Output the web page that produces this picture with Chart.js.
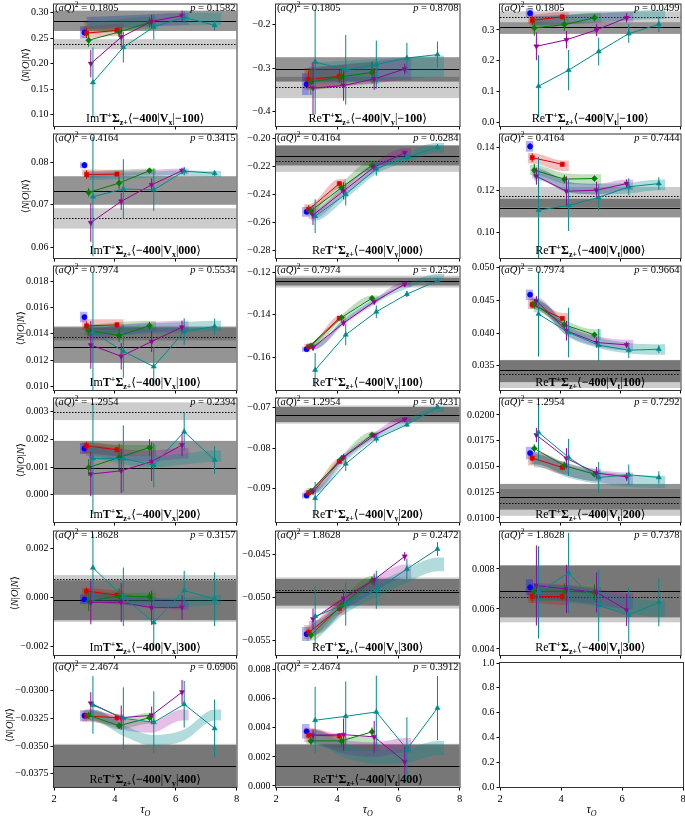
<!DOCTYPE html>
<html>
<head>
<meta charset="utf-8">
<script src="https://cdn.jsdelivr.net/npm/chart.js@4"></script>
<style>
  body { margin: 0; background: #fff; width: 685px; height: 818px; position: relative; overflow: hidden; }
  canvas { position: absolute; }
</style>
</head>
<body>
<script>
// tau positions of the five fit ranges (slightly offset per series)
const tauBlue = [3.0];
const tauRed = [3.07, 4.07];
const tauGreen = [3.14, 4.14, 5.14];
const tauPurple = [3.21, 4.21, 5.21, 6.21];
const tauTeal = [3.28, 4.28, 5.28, 6.28, 7.28];

// panel labels, row by row
const titleParts = ['Im','Re','Re','Im','Re','Re','Im','Re','Re','Im','Re','Re','Im','Re','Re','Re','Re'];
const titleComps = ['x','y','t','x','y','t','x','y','t','x','y','t','x','y','t','y','t'];
const titleMoms = ['−100','−100','−100','000','000','000','100','100','100','200','200','200','300','300','300','400','400'];
const aQ2 = ['0.1805','0.1805','0.1805','0.4164','0.4164','0.4164','0.7974','0.7974','0.7974','1.2954','1.2954','1.2954','1.8628','1.8628','1.8628','2.4674','2.4674'];
const pValues = ['0.1582','0.8708','0.0499','0.3415','0.6284','0.7444','0.5534','0.2529','0.9664','0.2394','0.4231','0.7292','0.3157','0.2472','0.7378','0.6906','0.3912'];

// y axis ranges and ticks
const yMin = [0.0775, -0.433, -0.0105, 0.0575, -0.2852, 0.0881, 0.00975, -0.1754, 0.0313, -0.00098, -0.0982, 0.0096, -0.00236, -0.05665, 0.0037, -0.0387, -0.00007, 0];
const yMax = [0.316, -0.154, 0.382, 0.0865, -0.1974, 0.1462, 0.0191, -0.1173, 0.0502, 0.00348, -0.0678, 0.0216, 0.00271, -0.0424, 0.00987, -0.02755, 0.00842, 1];
const yStep = [0.05, 0.1, 0.1, 0.01, 0.02, 0.02, 0.002, 0.02, 0.005, 0.001, 0.01, 0.0025, 0.002, 0.005, 0.002, 0.0025, 0.002, 0.2];
const yDecimals = [2, 1, 1, 2, 2, 2, 3, 2, 3, 3, 2, 4, 3, 3, 3, 4, 3, 1];
const xTicks = [2, 4, 6, 8];

// data points and errors
const blueVal = [0.261, -0.337, 0.354, 0.0793, -0.2524, 0.1406, 0.01527, -0.1562, 0.04589, 0.001675, -0.09169, 0.0163, -0.00008, -0.05423, 0.00708, -0.03226, 0.00376];
const blueErr = [0.006, 0.008, 0.008, 0.0007, 0.0015, 0.0015, 0.0002, 0.0008, 0.0003, 0.0001, 0.0004, 0.0002, 0.00008, 0.0003, 0.00015, 0.00015, 0.0001];

const redVal = [[0.260, 0.265], [-0.326, -0.319], [0.331, 0.342], [0.0771, 0.0772], [-0.2507, -0.2323], [0.1353, 0.1322], [0.01461, 0.01468], [-0.1551, -0.1416], [0.04435, 0.04225], [0.00177, 0.00163], [-0.09103, -0.08329], [0.01581, 0.0149], [0.00026, 0.0001], [-0.05404, -0.05127], [0.00662, 0.00662], [-0.03229, -0.03244], [0.00349, 0.00344]];
const redErr = [[0.010, 0.006], [0.02, 0.015], [0.015, 0.008], [0.001, 0.0005], [0.003, 0.0015], [0.002, 0.001], [0.0003, 0.0002], [0.001, 0.0008], [0.0005, 0.0003], [0.00015, 0.0001], [0.0005, 0.0004], [0.0003, 0.0002], [0.00015, 0.0001], [0.0004, 0.0004], [0.0003, 0.0002], [0.0002, 0.0003], [0.0002, 0.0002]];

const greenVal = [[0.246, 0.262, 0.281], [-0.332, -0.320, -0.310], [0.306, 0.317, 0.339], [0.0729, 0.0751, 0.0780], [-0.2517, -0.2352, -0.2194], [0.1294, 0.1252, 0.1255], [0.01425, 0.01387, 0.01461], [-0.1546, -0.1413, -0.1322], [0.04445, 0.04128, 0.03974], [0.00099, 0.00135, 0.00171], [-0.09062, -0.08263, -0.07671], [0.01675, 0.01506, 0.01425], [-0.00015, 0.00007, 0.00003], [-0.05435, -0.05096, -0.04808], [0.00688, 0.00688, 0.00683], [-0.03223, -0.03317, -0.03244], [0.0031, 0.0031, 0.00372]];
const greenErr = [[0.013, 0.010, 0.010], [0.03, 0.02, 0.025], [0.025, 0.02, 0.012], [0.001, 0.0015, 0.0006], [0.003, 0.003, 0.0015], [0.003, 0.002, 0.001], [0.0004, 0.0005, 0.0003], [0.001, 0.001, 0.0008], [0.0007, 0.0007, 0.0004], [0.0003, 0.0005, 0.0003], [0.0006, 0.0006, 0.0004], [0.0004, 0.0004, 0.0003], [0.0004, 0.0003, 0.0002], [0.0005, 0.0006, 0.0005], [0.0004, 0.0004, 0.0004], [0.0003, 0.0003, 0.0004], [0.0003, 0.0003, 0.0003]];

const purpleVal = [[0.200, 0.252, 0.283, 0.294], [-0.346, -0.340, -0.325, -0.302], [0.247, 0.268, 0.300, 0.339], [0.0658, 0.0708, 0.0747, 0.0780], [-0.2547, -0.2375, -0.2205, -0.2104], [0.1266, 0.1195, 0.1200, 0.1231], [0.01316, 0.0123, 0.01342, 0.01451], [-0.1554, -0.1439, -0.1339, -0.1256], [0.04496, 0.04036, 0.03857, 0.03821], [0.00075, 0.00087, 0.0012, 0.0018], [-0.0907, -0.08222, -0.07687, -0.07292], [0.01805, 0.01578, 0.01435, 0.01399], [-0.0002, -0.0002, -0.00042, -0.0004], [-0.0525, -0.05012, -0.04796, -0.04527], [0.00717, 0.0070, 0.00683, 0.00595], [-0.03114, -0.03244, -0.03223, -0.03013], [0.00349, 0.00353, 0.00338, 0.00166]];
const purpleErr = [[0.027, 0.02, 0.013, 0.01], [0.06, 0.035, 0.025, 0.012], [0.045, 0.028, 0.02, 0.015], [0.0045, 0.002, 0.0015, 0.0007], [0.007, 0.006, 0.003, 0.0015], [0.004, 0.007, 0.004, 0.002], [0.0018, 0.001, 0.0008, 0.0005], [0.0015, 0.0015, 0.001, 0.0007], [0.0007, 0.0015, 0.0008, 0.0005], [0.0008, 0.0008, 0.0007, 0.0004], [0.0008, 0.0008, 0.0005, 0.0004], [0.0007, 0.001, 0.0006, 0.0004], [0.0009, 0.0008, 0.0007, 0.0005], [0.0012, 0.001, 0.0007, 0.0005], [0.002, 0.0012, 0.001, 0.0008], [0.001, 0.0011, 0.0008, 0.0011], [0.0004, 0.0011, 0.0011, 0.0011]];

const tealVal = [[0.163, 0.232, 0.272, 0.291, 0.275], [-0.286, -0.304, -0.292, -0.277, -0.269], [0.118, 0.170, 0.230, 0.288, 0.318], [0.0719, 0.0737, 0.0735, 0.0779, 0.0774], [-0.2555, -0.2399, -0.2217, -0.2135, -0.2064], [0.1106, 0.1128, 0.1166, 0.1216, 0.1231], [0.01413, 0.01268, 0.01152, 0.01418, 0.01456], [-0.1660, -0.1494, -0.1386, -0.1303, -0.1240], [0.04292, 0.0401, 0.03816, 0.03739, 0.03754], [0.00131, 0.00131, 0.00107, 0.00228, 0.00126], [-0.09235, -0.08387, -0.0777, -0.07424, -0.0699], [0.01831, 0.01588, 0.01393, 0.01419, 0.01393], [0.00122, 0.00003, -0.00103, 0.00029, -0.00007], [-0.05219, -0.05077, -0.04912, -0.04673, -0.04442], [0.00683, 0.0078, 0.00617, 0.0057, 0.00633], [-0.03129, -0.0325, -0.03286, -0.03123, -0.03341], [0.00452, 0.00479, 0.00509, 0.00253, 0.00536]];
const tealErr = [[0.069, 0.03, 0.025, 0.012, 0.01], [0.12, 0.08, 0.055, 0.035, 0.03], [0.10, 0.065, 0.045, 0.03, 0.025], [0.014, 0.007, 0.005, 0.001, 0.0007], [0.012, 0.008, 0.005, 0.003, 0.002], [0.025, 0.012, 0.006, 0.004, 0.003], [0.0045, 0.002, 0.0015, 0.001, 0.0006], [0.008, 0.005, 0.003, 0.0015, 0.001], [0.0065, 0.0038, 0.0025, 0.0012, 0.0006], [0.002, 0.0012, 0.0008, 0.0007, 0.0005], [0.004, 0.0018, 0.001, 0.0006, 0.0004], [0.0028, 0.0018, 0.0015, 0.001, 0.0006], [0.0014, 0.0012, 0.001, 0.0008, 0.0011], [0.0035, 0.0025, 0.0022, 0.0012, 0.0008], [0.0023, 0.002, 0.0018, 0.0014, 0.0012], [0.0026, 0.0028, 0.0028, 0.0021, 0.0026], [0.0023, 0.0024, 0.0025, 0.0022, 0.0022]];

// fit bands (centre at each tau, half width per panel)
const redFit = [[0.262, 0.266], [-0.325, -0.318], [0.335, 0.342], [0.0776, 0.0775], [-0.2505, -0.2325], [0.135, 0.1315], [0.0147, 0.0147], [-0.1550, -0.1418], [0.0445, 0.0423], [0.0017, 0.0016], [-0.0910, -0.0833], [0.0157, 0.0149], [0.0002, 0.0001], [-0.0540, -0.0512], [0.0067, 0.0066], [-0.0323, -0.0326], [0.0035, 0.0031]];
const greenFit = [[0.270, 0.275, 0.280], [-0.325, -0.318, -0.312], [0.325, 0.332, 0.340], [0.0772, 0.0775, 0.0778], [-0.2515, -0.2350, -0.2195], [0.1295, 0.1255, 0.125], [0.0143, 0.0145, 0.0146], [-0.1545, -0.1413, -0.1322], [0.0445, 0.0413, 0.0398], [0.0017, 0.0016, 0.0016], [-0.0906, -0.0826, -0.0767], [0.0158, 0.0148, 0.0142], [0.0001, 0.0, 0.0], [-0.0542, -0.0510, -0.0483], [0.0068, 0.0068, 0.0067], [-0.0322, -0.0330, -0.0325], [0.0034, 0.0029, 0.0029]];
const purpleFit = [[0.280, 0.282, 0.285, 0.288], [-0.322, -0.316, -0.310, -0.303], [0.330, 0.333, 0.337, 0.342], [0.0770, 0.0772, 0.0775, 0.0778], [-0.2540, -0.2375, -0.2210, -0.2105], [0.128, 0.1215, 0.1205, 0.1225], [0.0140, 0.0143, 0.0145, 0.0146], [-0.1552, -0.1435, -0.1340, -0.1258], [0.0447, 0.0405, 0.0388, 0.0382], [0.0016, 0.00145, 0.0014, 0.0015], [-0.0906, -0.0823, -0.0769, -0.0730], [0.0158, 0.0147, 0.0141, 0.0138], [0.0, -0.0001, -0.0002, -0.0003], [-0.0535, -0.0508, -0.0486, -0.0470], [0.0069, 0.0068, 0.0066, 0.0064], [-0.0322, -0.0330, -0.0333, -0.0322], [0.0034, 0.0027, 0.0025, 0.0028]];
const tealFit = [[0.280, 0.283, 0.285, 0.287, 0.288], [-0.312, -0.308, -0.304, -0.300, -0.296], [0.330, 0.335, 0.340, 0.345, 0.350], [0.0765, 0.0768, 0.0771, 0.0774, 0.0772], [-0.2550, -0.2395, -0.2220, -0.2135, -0.2068], [0.127, 0.1215, 0.1205, 0.121, 0.1225], [0.0142, 0.0143, 0.0144, 0.0145, 0.0146], [-0.1550, -0.1420, -0.1330, -0.1265, -0.1220], [0.0440, 0.0402, 0.0385, 0.0377, 0.0375], [0.0015, 0.0013, 0.0012, 0.0013, 0.0014], [-0.0905, -0.0825, -0.0770, -0.0735, -0.0705], [0.0155, 0.0145, 0.0139, 0.0136, 0.0135], [0.0, -0.0001, -0.0002, -0.0002, -0.0001], [-0.0535, -0.0510, -0.0492, -0.0475, -0.0462], [0.0068, 0.0067, 0.0065, 0.0062, 0.0060], [-0.0322, -0.0336, -0.0345, -0.0340, -0.0322], [0.0033, 0.0024, 0.0020, 0.0021, 0.0026]];
const fitWidth = [0.012, 0.025, 0.015, 0.0007, 0.0035, 0.0025, 0.0004, 0.0012, 0.0008, 0.0002, 0.0007, 0.0006, 0.0002, 0.0008, 0.0004, 0.0005, 0.0005];

// horizontal result bands
const solidVal = [0.284, -0.302, 0.308, 0.0733, -0.2125, 0.1114, 0.0130, -0.1243, 0.0343, 0.00098, -0.0718, 0.0120, -0.0001, -0.04942, 0.00688, -0.0368, 0.00139];
const darkLo = [0.264, -0.331, 0.287, 0.0700, -0.2194, 0.1072, 0.0118, -0.1262, 0.0325, 0.0, -0.0736, 0.0108, -0.00093, -0.05096, 0.00558, -0.0388, 0.0];
const darkHi = [0.304, -0.275, 0.325, 0.0767, -0.2052, 0.1160, 0.0145, -0.1226, 0.0359, 0.00195, -0.0699, 0.0133, 0.00071, -0.04788, 0.00817, -0.0349, 0.00285];
const dottedVal = [0.2385, -0.344, 0.341, 0.0669, -0.2165, 0.1172, 0.0138, -0.1243, 0.0337, 0.0030, -0.0718, 0.0114, 0.00078, -0.04915, 0.00658, -0.0368, 0.00139];
const lightLo = [0.228, -0.369, 0.325, 0.0644, -0.224, 0.1120, 0.0135, -0.1272, 0.0316, 0.0027, -0.0740, 0.0102, -0.0010, -0.0513, 0.00533, -0.0390, -0.0001];
const lightHi = [0.248, -0.320, 0.360, 0.0692, -0.205, 0.1215, 0.0146, -0.1216, 0.0358, 0.00334, -0.0695, 0.0128, 0.00092, -0.0477, 0.0082, -0.0348, 0.0029];

// styling
const seriesColors = ['#0000ff', '#dd0000', '#007f00', '#990099', '#008b8b'];
const bandColors = ['rgba(0,0,255,0.3)', 'rgba(221,0,0,0.25)', 'rgba(0,127,0,0.25)', 'rgba(153,0,153,0.25)', 'rgba(0,139,139,0.3)'];
const pointStyles = ['circle', 'rect', 'rectRot', 'triangle', 'triangle'];
const pointRot = [0, 0, 0, 180, 0];

const SERIF = "'Liberation Serif', 'DejaVu Serif', serif";

const rowTop = [2, 134, 266, 398, 531, 663];
const plotH = 124;
const colPlotL = [54, 276, 500];
const colPlotR = [237, 460, 683];
const colCanL = [0, 238, 462];
const colCanR = [241, 464, 685];

Chart.defaults.font.family = SERIF;
Chart.defaults.font.size = 10;
Chart.defaults.color = '#000';

function fmtTick(v, d) {
  if (Math.abs(v) < 1e-12) v = 0;
  return v.toFixed(d).replace('-', '\u2212');
}

// draw a list of text runs with their own fonts and vertical shifts
function drawRuns(ctx, list, x, y, align) {
  let total = 0;
  list.forEach(r => { ctx.font = r.font; r.w = ctx.measureText(r.t).width; total += r.w; });
  let cx = align === 'center' ? x - total / 2 : align === 'right' ? x - total : x;
  ctx.textAlign = 'left';
  ctx.textBaseline = 'alphabetic';
  list.forEach(r => { ctx.font = r.font; ctx.fillText(r.t, cx, y + (r.dy || 0)); cx += r.w; });
}

function titleRuns(p) {
  const reg = `12px ${SERIF}`, bold = `bold 12px ${SERIF}`, small = `bold 8px ${SERIF}`;
  return [
    { t: titleParts[p], font: reg },
    { t: 'T', font: bold },
    { t: '+', font: small, dy: -4.5 },
    { t: 'Σ', font: bold },
    { t: 'z+', font: small, dy: 2.5 },
    { t: '⟨', font: reg },
    { t: '−400', font: bold },
    { t: '|', font: reg },
    { t: 'V', font: bold },
    { t: titleComps[p], font: small, dy: 2.5 },
    { t: '|', font: reg },
    { t: titleMoms[p], font: bold },
    { t: '⟩', font: reg }
  ];
}

function seriesOf(p) {
  return [
    { tau: tauBlue, val: [blueVal[p]], err: [blueErr[p]], fit: [blueVal[p]] },
    { tau: tauRed, val: redVal[p], err: redErr[p], fit: redFit[p] },
    { tau: tauGreen, val: greenVal[p], err: greenErr[p], fit: greenFit[p] },
    { tau: tauPurple, val: purpleVal[p], err: purpleErr[p], fit: purpleFit[p] },
    { tau: tauTeal, val: tealVal[p], err: tealErr[p], fit: tealFit[p] }
  ];
}

function bandEdge(tau, fit, w, sign) {
  const last = tau.length - 1;
  const xs = [tau[0] - 0.15, ...tau, tau[last] + (tau.length === 1 ? 0.1 : 0.22)];
  const ys = [fit[0], ...fit, fit[last]];
  return xs.map((x, i) => ({ x: x, y: ys[i] + sign * w }));
}

function buildDatasets(p) {
  const out = [];
  if (p > 16) return out;
  const w = fitWidth[p];
  seriesOf(p).forEach((s, k) => {
    out.push({
      data: bandEdge(s.tau, s.fit, w, -1), borderWidth: 0, pointRadius: 0,
      fill: false, cubicInterpolationMode: 'monotone', order: 20 - k
    });
    out.push({
      data: bandEdge(s.tau, s.fit, w, 1), borderWidth: 0, pointRadius: 0,
      fill: '-1', backgroundColor: bandColors[k], cubicInterpolationMode: 'monotone', order: 20 - k
    });
  });
  seriesOf(p).forEach((s, k) => {
    out.push({
      data: s.tau.map((x, i) => ({ x: x, y: s.val[i] })),
      errors: s.err,
      borderColor: seriesColors[k], backgroundColor: seriesColors[k],
      borderWidth: 1, pointStyle: pointStyles[k], pointRotation: pointRot[k],
      pointRadius: k === 0 ? 2.6 : 3, pointBorderWidth: 0.5, fill: false, order: 10 - k
    });
  });
  return out;
}

function panelPlugin(p, r, c) {
  return {
    id: 'panel' + p,
    beforeDatasetsDraw(chart) {
      if (p > 16) return;
      const { ctx, chartArea: a } = chart;
      const y = chart.scales.y;
      ctx.save();
      ctx.beginPath(); ctx.rect(a.left, a.top, a.right - a.left, a.bottom - a.top); ctx.clip();
      const band = (lo, hi, col) => {
        const y1 = y.getPixelForValue(hi), y2 = y.getPixelForValue(lo);
        ctx.fillStyle = col;
        ctx.fillRect(a.left, y1, a.right - a.left, y2 - y1);
      };
      band(lightLo[p], lightHi[p], 'rgba(0,0,0,0.2)');
      band(darkLo[p], darkHi[p], 'rgba(0,0,0,0.42)');
      const hline = (v, dash) => {
        const yy = Math.round(y.getPixelForValue(v)) + 0.5;
        ctx.setLineDash(dash); ctx.strokeStyle = '#000'; ctx.lineWidth = 1;
        ctx.beginPath(); ctx.moveTo(a.left, yy); ctx.lineTo(a.right, yy); ctx.stroke();
      };
      hline(dottedVal[p], [1.5, 1.5]);
      hline(solidVal[p], []);
      ctx.restore();
    },
    afterDatasetDraw(chart, args) {
      const ds = chart.data.datasets[args.index];
      if (!ds.errors) return;
      const { ctx, chartArea: a } = chart;
      const x = chart.scales.x, y = chart.scales.y;
      ctx.save();
      ctx.beginPath(); ctx.rect(a.left, a.top, a.right - a.left, a.bottom - a.top); ctx.clip();
      ctx.strokeStyle = ds.borderColor; ctx.lineWidth = 1;
      ds.data.forEach((pt, i) => {
        const px = x.getPixelForValue(pt.x);
        ctx.beginPath();
        ctx.moveTo(px, y.getPixelForValue(pt.y - ds.errors[i]));
        ctx.lineTo(px, y.getPixelForValue(pt.y + ds.errors[i]));
        ctx.stroke();
      });
      ctx.restore();
    },
    afterDraw(chart) {
      const { ctx, chartArea: a } = chart;
      const y = chart.scales.y;
      ctx.save();
      ctx.strokeStyle = '#333'; ctx.lineWidth = 1; ctx.setLineDash([]);
      ctx.strokeRect(a.left - 0.5, a.top - 0.5, a.right - a.left + 1, a.bottom - a.top + 1);
      ctx.fillStyle = '#000';
      if (p <= 16) {
        const f = `10.5px ${SERIF}`, fi = `italic 10.5px ${SERIF}`;
        drawRuns(ctx, [
          { t: '(', font: f }, { t: 'aQ', font: fi }, { t: ')', font: f },
          { t: '2', font: `7.5px ${SERIF}`, dy: -4 }, { t: ' = ' + aQ2[p], font: f }
        ], a.left + 1, a.top + 6.5, 'left');
        drawRuns(ctx, [{ t: 'p', font: fi }, { t: ' = ' + pValues[p], font: f }], a.right - 1, a.top + 6.5, 'right');
        drawRuns(ctx, titleRuns(p), (a.left + a.right) / 2, a.bottom - 4, 'center');
      }
      if (c === 0) {
        ctx.font = `10px ${SERIF}`;
        let maxW = 0;
        y.ticks.forEach(t => { maxW = Math.max(maxW, ctx.measureText(t.label).width); });
        const lx = a.left - 3.5 - 2 - maxW - 6;
        ctx.translate(lx, (a.top + a.bottom) / 2);
        ctx.rotate(-Math.PI / 2);
        const f = `10.5px ${SERIF}`, fi = `italic 10.5px ${SERIF}`;
        drawRuns(ctx, [
          { t: '⟨', font: f }, { t: 'N', font: fi }, { t: '|', font: f }, { t: 'O', font: fi },
          { t: '|', font: f }, { t: 'N', font: fi }, { t: '⟩', font: f }
        ], 0, 4, 'center');
        ctx.setTransform(1, 0, 0, 1, 0, 0);
      }
      if (r === 5) {
        drawRuns(ctx, [
          { t: 'τ', font: `italic 12px ${SERIF}` },
          { t: 'O', font: `italic 8px ${SERIF}`, dy: 2.5 }
        ], (a.left + a.right) / 2, chart.height - 5, 'center');
      }
      ctx.restore();
    }
  };
}

function makePanel(p, r, c) {
  const plotTop = rowTop[r];
  const plotBottom = plotTop + plotH;
  const canTop = Math.max(0, plotTop - 4);
  const canBottom = r < 5 ? plotBottom + 5 : 818;
  const canvas = document.createElement('canvas');
  const W = colCanR[c] - colCanL[c], H = canBottom - canTop;
  canvas.width = W; canvas.height = H;
  canvas.style.left = colCanL[c] + 'px';
  canvas.style.top = canTop + 'px';
  canvas.style.width = W + 'px';
  canvas.style.height = H + 'px';
  document.body.appendChild(canvas);

  const yW = colPlotL[c] - colCanL[c];
  const xH = canBottom - plotBottom;
  const tickGrid = { display: true, drawOnChartArea: false, drawTicks: true, tickLength: 3.5, color: '#000' };

  new Chart(canvas, {
    type: 'line',
    data: { datasets: buildDatasets(p) },
    options: {
      responsive: false, animation: false, devicePixelRatio: 1,
      layout: { padding: { top: plotTop - canTop, right: colCanR[c] - colPlotR[c], left: 0, bottom: 0 } },
      plugins: { legend: { display: false }, tooltip: { enabled: false } },
      scales: {
        x: {
          type: 'linear', min: xTicks[0], max: xTicks[xTicks.length - 1],
          ticks: { stepSize: xTicks[1] - xTicks[0], display: r === 5, padding: 2, font: { size: 10.5 } },
          grid: tickGrid, border: { display: false },
          afterFit: s => { s.height = xH; s.paddingLeft = 0; s.paddingRight = 0; }
        },
        y: {
          type: 'linear', min: yMin[p], max: yMax[p],
          ticks: {
            stepSize: yStep[p], includeBounds: false, autoSkip: false, padding: 2,
            callback: v => fmtTick(v, yDecimals[p])
          },
          grid: tickGrid, border: { display: false },
          afterFit: s => { s.width = yW; s.paddingTop = 0; s.paddingBottom = 0; }
        }
      }
    },
    plugins: [panelPlugin(p, r, c)]
  });
}

for (let r = 0; r < 6; r++) {
  for (let c = 0; c < 3; c++) {
    makePanel(r * 3 + c, r, c);
  }
}
</script>
</body>
</html>
